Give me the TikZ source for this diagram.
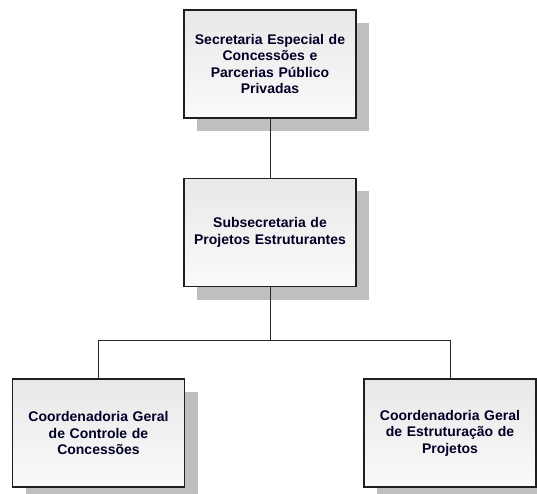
\documentclass[tikz,border=0pt]{standalone}
\usepackage{fontspec}
\setmainfont{Liberation Sans}
\begin{document}
\begin{tikzpicture}[x=1pt,y=-1pt,
  orgbox/.style={draw=black!88, line width=1.4pt, minimum width=172pt, minimum height=108pt,
    inner sep=0pt, top color=black!9, bottom color=black!2, align=center,
    font=\fontsize{14}{16.5}\selectfont\bfseries, text=black!85!blue,
    text width=168pt},
  shadowbox/.style={fill=black!25, draw=none, minimum width=172pt, minimum height=108pt, inner sep=0pt},
  link/.style={draw=black!85, line width=0.9pt}]
\useasboundingbox (0,0) rectangle (537,494);
% shadows
\node[shadowbox] (s1) at (283,77) {};
\node[shadowbox] (s2) at (283,245.5) {};
\node[shadowbox] (s3) at (111.5,446) {};
\node[shadowbox] (s4) at (463,446) {};
% connectors
\coordinate (j) at (270,340);
\coordinate (jl) at (98.5,340);
\coordinate (jr) at (450,340);
\node[orgbox] (a) at (270,64) {Secretaria Especial de\\Concessões e\\Parcerias Público\\Privadas};
\node[orgbox] (b) at (270,232.5) {Subsecretaria de\\Projetos Estruturantes};
\node[orgbox] (c) at (98.5,433) {Coordenadoria Geral\\de Controle de\\Concessões};
\node[orgbox] (d) at (450,433) {Coordenadoria Geral\\de Estruturação de\\Projetos};
\draw[link] (a.south) -- (b.north);
\draw[link] (b.south) -- (j);
\draw[link] (jl) -- (jr);
\draw[link] (jl) -- (c.north);
\draw[link] (jr) -- (d.north);
\end{tikzpicture}
\end{document}
